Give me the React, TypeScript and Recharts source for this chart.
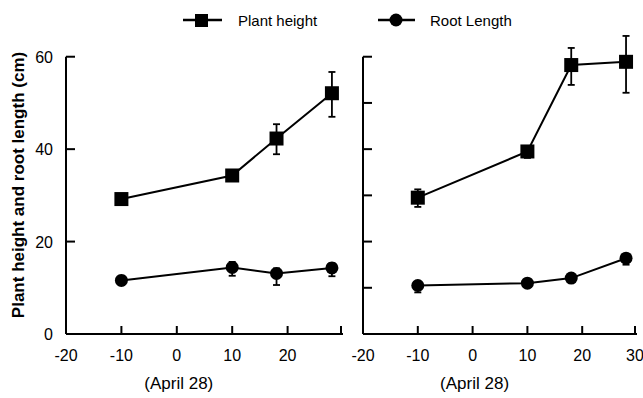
import { ComposedChart, Line, XAxis, YAxis, ErrorBar, ReferenceLine } from 'recharts';

const FONT = '"Liberation Sans", Arial, sans-serif';

// days relative to April 28
const days = [-10, 10, 18, 28];
const xTicks = [-20, -10, 0, 10, 20, 30];
const leftYTicks = [0, 20, 40, 60];
const rightYTicks = [0, 10, 20, 30, 40, 50, 60];

// left panel
const leftHeight = [29.2, 34.3, 42.3, 52.1];
const leftHeightErr = [[1, 1], [0.8, 0.8], [3.4, 3.1], [5.1, 4.6]];
const leftRoot = [11.6, 14.4, 13.1, 14.3];
const leftRootErr = [[1, 1], [1.8, 1.2], [2.5, 1.1], [1.8, 1]];

// right panel
const rightHeight = [29.5, 39.5, 58.2, 58.9];
const rightHeightErr = [[2, 1.8], [1.4, 1], [4.3, 3.7], [6.7, 5.6]];
const rightRoot = [10.5, 11, 12.1, 16.4];
const rightRootErr = [[1.5, 0.8], [0.8, 0.8], [0.8, 0.8], [1.4, 0.8]];

function buildRows(h: number[], he: number[][], r: number[], re: number[][]) {
  return days.map((d, i) => ({
    day: d,
    height: h[i],
    heightErr: he[i],
    root: r[i],
    rootErr: re[i],
  }));
}

const leftData = buildRows(leftHeight, leftHeightErr, leftRoot, leftRootErr);
const rightData = buildRows(rightHeight, rightHeightErr, rightRoot, rightRootErr);

const SquareDot = (props: any) => {
  const { cx, cy, index } = props;
  return <rect key={`s-${index}`} x={cx - 7} y={cy - 7} width={14} height={14} fill="#000" />;
};

const CircleDot = (props: any) => {
  const { cx, cy, index } = props;
  return <circle key={`c-${index}`} cx={cx} cy={cy} r={6.5} fill="#000" />;
};

function XTick(props: any, hideLast: boolean) {
  const { x, y, payload } = props;
  const v = payload.value;
  const showLabel = !(hideLast && v === 30);
  return (
    <g>
      <line x1={x} x2={x} y1={y} y2={y - 8} stroke="#000" strokeWidth={2} />
      {showLabel && (
        <text x={x} y={y + 27} textAnchor="middle" fontSize={16} fill="#000" fontFamily={FONT}>
          {v}
        </text>
      )}
      {v === 0 && (
        <text x={x + 2} y={y + 55} textAnchor="middle" fontSize={17} fill="#000" fontFamily={FONT}>
          (April 28)
        </text>
      )}
    </g>
  );
}

function YTick(props: any, showLabel: boolean) {
  const { x, y, payload } = props;
  return (
    <g>
      <line x1={x} x2={x + 9} y1={y} y2={y} stroke="#000" strokeWidth={2} />
      {showLabel && (
        <text x={x - 13} y={y + 6} textAnchor="end" fontSize={16} fill="#000" fontFamily={FONT}>
          {payload.value}
        </text>
      )}
    </g>
  );
}

interface PanelProps {
  data: any[];
  width: number;
  left: number;
  yWidth: number;
  yTicks: number[];
  showYLabels: boolean;
  hideLastX: boolean;
}

function Panel({ data, width, left, yWidth, yTicks, showYLabels, hideLastX }: PanelProps) {
  return (
    <div style={{ position: 'absolute', left, top: 0 }}>
      <ComposedChart
        width={width}
        height={398}
        data={data}
        margin={{ top: 29, right: 6, bottom: 4, left: 0 }}
      >
        <XAxis
          dataKey="day"
          type="number"
          domain={[-20, 30]}
          ticks={xTicks}
          axisLine={{ stroke: '#000', strokeWidth: 2 }}
          tickLine={false}
          tickSize={0}
          tickMargin={0}
          height={60}
          tick={(p: any) => XTick(p, hideLastX)}
        />
        <YAxis
          type="number"
          domain={[0, 66]}
          ticks={yTicks}
          axisLine={false}
          tickLine={false}
          tickSize={0}
          tickMargin={0}
          width={yWidth}
          tick={(p: any) => YTick(p, showYLabels)}
        />
        <ReferenceLine
          segment={[{ x: -20, y: 0 }, { x: -20, y: 60 }]}
          stroke="#000"
          strokeWidth={2}
          ifOverflow="visible"
        />
        <Line
          type="linear"
          dataKey="height"
          stroke="#000"
          strokeWidth={2}
          dot={SquareDot}
          activeDot={false}
          isAnimationActive={false}
        >
          <ErrorBar dataKey="heightErr" direction="y" width={3.5} stroke="#000" strokeWidth={1.8} />
        </Line>
        <Line
          type="linear"
          dataKey="root"
          stroke="#000"
          strokeWidth={2}
          dot={CircleDot}
          activeDot={false}
          isAnimationActive={false}
        >
          <ErrorBar dataKey="rootErr" direction="y" width={3.5} stroke="#000" strokeWidth={1.8} />
        </Line>
      </ComposedChart>
    </div>
  );
}

function Overlay() {
  return (
    <svg width={643} height={398} style={{ position: 'absolute', left: 0, top: 0, pointerEvents: 'none' }}>
      <line x1={183} x2={222} y1={20} y2={20} stroke="#000" strokeWidth={2.5} />
      <rect x={195} y={14} width={13} height={13} fill="#000" />
      <text x={238} y={26} fontSize={15} fill="#000" fontFamily={FONT}>
        Plant height
      </text>
      <line x1={378} x2={415} y1={20} y2={20} stroke="#000" strokeWidth={2.5} />
      <circle cx={396} cy={20} r={6.5} fill="#000" />
      <text x={430} y={26} fontSize={15} fill="#000" fontFamily={FONT}>
        Root Length
      </text>
      <text
        x={18}
        y={185}
        transform="rotate(-90 18 185)"
        textAnchor="middle"
        dominantBaseline="central"
        fontSize={17}
        fontWeight="bold"
        fill="#000"
        fontFamily={FONT}
      >
        Plant height and root length (cm)
      </text>
    </svg>
  );
}

export default function App() {
  return (
    <div
      style={{
        position: 'absolute',
        left: 0,
        top: 0,
        width: 643,
        height: 398,
        background: '#fff',
        fontFamily: FONT,
        overflow: 'hidden',
      }}
    >
      <Panel
        data={leftData}
        width={349}
        left={0}
        yWidth={66}
        yTicks={leftYTicks}
        showYLabels
        hideLastX
      />
      <Panel
        data={rightData}
        width={313}
        left={330}
        yWidth={33}
        yTicks={rightYTicks}
        showYLabels={false}
        hideLastX={false}
      />
      <Overlay />
    </div>
  );
}
